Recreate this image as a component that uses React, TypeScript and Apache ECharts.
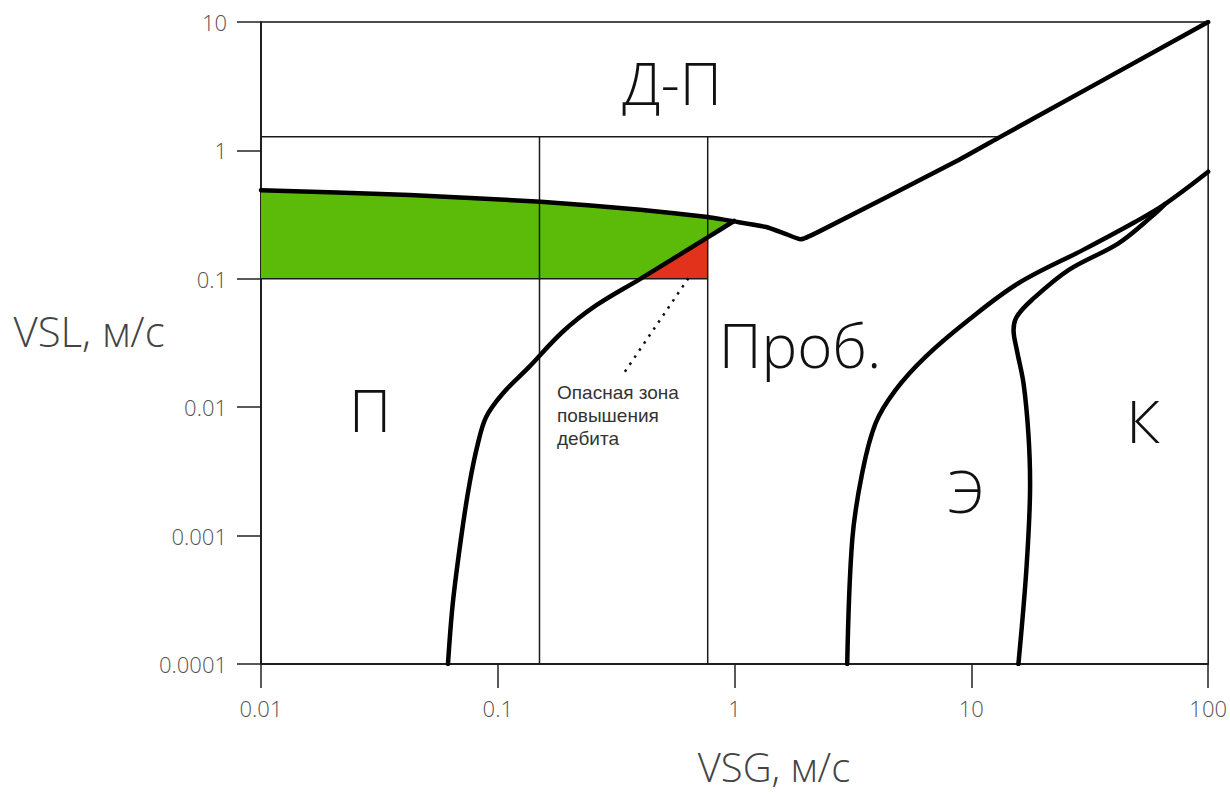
import React, { useEffect, useRef } from "react";
import * as echarts from "echarts";

const WIDTH = 1230;
const HEIGHT = 794;

// Flow-regime boundaries, [VSG, VSL] in m/s
const BUBBLE_SLUG = [
  [0.0616, 0.0001], [0.0646, 0.0003], [0.0702, 0.001], [0.076, 0.00255],
  [0.0824, 0.0052], [0.0893, 0.0084], [0.105, 0.0128], [0.136, 0.0207],
  [0.188, 0.0387], [0.26, 0.062], [0.4, 0.1], [0.77, 0.21], [0.995, 0.282],
];
const DISPERSED_BOUNDARY = [
  [0.01, 0.49], [0.0425, 0.45], [0.152, 0.398], [0.4, 0.345], [0.77, 0.303],
  [0.995, 0.28], [1.36, 0.253], [1.62, 0.226], [1.9, 0.203], [2.27, 0.233],
  [8.84, 0.841], [13.3, 1.28], [100, 10],
];
const SLUG_CHURN = [
  [2.99, 0.0001], [3.14, 0.000925], [3.457, 0.00306], [3.94, 0.0075],
  [4.78, 0.0136], [6.4, 0.0247], [9.73, 0.0478], [15.8, 0.0923],
  [30.2, 0.171], [49.1, 0.277], [65.7, 0.382], [100, 0.682],
];
const CHURN_ANNULAR = [
  [15.8, 0.0001], [17.1, 0.00057], [17.7, 0.00255], [17.4, 0.0063],
  [16.6, 0.0154], [15.56, 0.0279], [15.07, 0.04], [15.56, 0.0507],
  [18.0, 0.0684], [25.7, 0.117], [41.8, 0.189], [57.7, 0.305], [65.7, 0.382],
];

// Operating window (thin guide lines)
const UPPER_LIMIT = [[0.01, 1.28], [13.3, 1.28]];
const LEFT_LIMIT = [[0.15, 0.0001], [0.15, 1.28]];
const RIGHT_LIMIT = [[0.77, 0.0001], [0.77, 1.28]];
const LOW_LIQUID = [[0.01, 0.1], [0.77, 0.1]];
const NOTE_LEADER = [[0.638, 0.101], [0.3345, 0.0175]];

// Shaded zones
const GREEN_ZONE = [
  [0.01, 0.1], [0.01, 0.49], [0.0425, 0.45], [0.152, 0.398], [0.4, 0.345],
  [0.77, 0.303], [0.995, 0.28], [0.77, 0.21], [0.4, 0.1],
];
const RED_ZONE = [[0.4, 0.1], [0.77, 0.21], [0.77, 0.1]];

const X_TITLE = "VSG, м/с";
const Y_TITLE = "VSL, м/с";
const NOTE_LINES = ["Опасная зона", "повышения", "дебита"];

const tickFont = {
  fontFamily: "'Open Sans', sans-serif",
  fontWeight: 300,
  fontSize: 22,
  color: "#555",
};

const fmt = (v: number) => String(Number(v.toPrecision(6)));

function zone(points: number[][], fill: string, z: number) {
  return {
    type: "custom",
    silent: true,
    z,
    data: [points[0]],
    renderItem: (_params: any, api: any) => ({
      type: "polygon",
      shape: { points: points.map((p) => api.coord(p)) },
      style: { fill, stroke: "none" },
    }),
  };
}

function thin(data: number[][]) {
  return {
    type: "line",
    data,
    showSymbol: false,
    silent: true,
    z: 3,
    lineStyle: { color: "#1a1a1a", width: 1.5 },
  };
}

function thick(data: number[][], smooth = 0.2) {
  return {
    type: "line",
    data,
    showSymbol: false,
    silent: true,
    smooth,
    z: 4,
    lineStyle: { color: "#000", width: 4.5, cap: "round", join: "round" },
  };
}

const regionFont = "'Open Sans', sans-serif";

function regionText(text: string, x: number, y: number, size = 59) {
  return {
    type: "text",
    x,
    y,
    z: 10,
    style: {
      text,
      fontFamily: regionFont,
      fontWeight: 300,
      fontSize: size,
      fill: "#111",
      align: "center",
      verticalAlign: "middle",
    },
  };
}

export default function App() {
  const ref = useRef<HTMLDivElement>(null);

  useEffect(() => {
    const chart = echarts.init(ref.current!, null, { renderer: "svg" });
    chart.setOption({
      animation: false,
      backgroundColor: "#fff",
      grid: {
        left: 261,
        right: 20,
        top: 22,
        bottom: 130,
        show: true,
        borderColor: "#111",
        borderWidth: 1.5,
      },
      xAxis: {
        type: "log",
        logBase: 10,
        min: 0.01,
        max: 100,
        axisLine: { show: true, lineStyle: { color: "#111", width: 1.5 } },
        axisTick: { show: true, length: 24, lineStyle: { color: "#222", width: 1.5 } },
        axisLabel: { ...tickFont, margin: 33, formatter: fmt, showMinLabel: true, showMaxLabel: true },
        splitLine: { show: false },
      },
      yAxis: {
        type: "log",
        logBase: 10,
        min: 0.0001,
        max: 10,
        axisLine: { show: true, lineStyle: { color: "#111", width: 1.5 } },
        axisTick: { show: true, length: 24, lineStyle: { color: "#222", width: 1.5 } },
        axisLabel: { ...tickFont, margin: 34, formatter: fmt, showMinLabel: true, showMaxLabel: true },
        splitLine: { show: false },
      },
      series: [
        zone(GREEN_ZONE, "#5cba08", 1),
        zone(RED_ZONE, "#e2321c", 1),
        thin(UPPER_LIMIT),
        thin(LEFT_LIMIT),
        thin(RIGHT_LIMIT),
        thin(LOW_LIQUID),
        {
          type: "line",
          data: NOTE_LEADER,
          showSymbol: false,
          silent: true,
          z: 3,
          lineStyle: { color: "#111", width: 2.5, type: [2.5, 6] },
        },
        thick(BUBBLE_SLUG, 0.35),
        thick(DISPERSED_BOUNDARY, 0.15),
        thick(SLUG_CHURN, 0.35),
        thick(CHURN_ANNULAR, 0.35),
      ],
      graphic: [
        regionText("Д-П", 672, 82),
        regionText("П", 370, 409),
        regionText("Проб.", 800, 345, 60),
        regionText("Э", 966, 490),
        regionText("К", 1143, 420),
        {
          type: "text",
          x: 557,
          y: 381,
          z: 10,
          style: {
            text: NOTE_LINES.join("\n"),
            fontFamily: "'Liberation Sans', Arial, sans-serif",
            fontSize: 19,
            lineHeight: 23,
            fill: "#333",
            align: "left",
            verticalAlign: "top",
          },
        },
        {
          type: "text",
          x: 89,
          y: 330,
          style: {
            text: Y_TITLE,
            fontFamily: regionFont,
            fontWeight: 300,
            fontSize: 42,
            fill: "#444",
            align: "center",
            verticalAlign: "middle",
          },
        },
        {
          type: "text",
          x: 774,
          y: 766,
          style: {
            text: X_TITLE,
            fontFamily: regionFont,
            fontWeight: 300,
            fontSize: 40,
            fill: "#444",
            align: "center",
            verticalAlign: "middle",
          },
        },
      ],
    });
    return () => chart.dispose();
  }, []);

  return (
    <div
      ref={ref}
      style={{ position: "absolute", left: 0, top: 0, width: WIDTH, height: HEIGHT, background: "#fff" }}
    />
  );
}
